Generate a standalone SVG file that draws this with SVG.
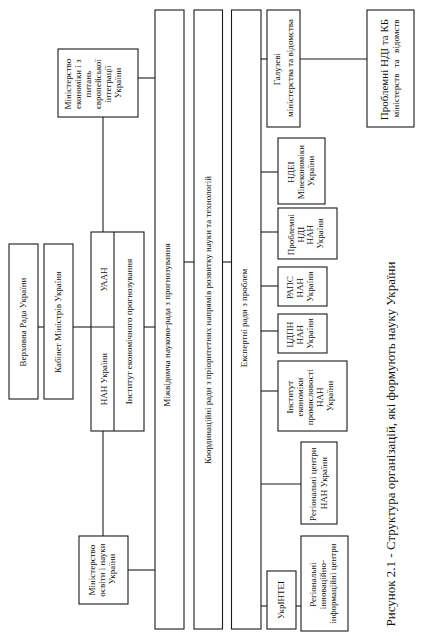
<svg xmlns="http://www.w3.org/2000/svg" width="428" height="636" viewBox="0 0 428 636">
<style>
.box{fill:#fff;stroke:#1a1a1a;stroke-width:1.1}
.ln{fill:none;stroke:#1a1a1a;stroke-width:1.1}
text{font-family:"Liberation Serif","Times New Roman",serif;font-size:9px;text-anchor:middle;fill:#111}
.big{font-size:11px}
.cap{font-size:13px}
</style>
<rect x="0" y="0" width="428" height="636" fill="#fff"/>
<g id="connectors" class="ln">
<path d="M138 78H155"/>
<path d="M103 117V232"/>
<path d="M38 327H44"/>
<path d="M73 327H91"/>
<path d="M144 327H155"/>
<path d="M103 431V536"/>
<path d="M128 570H155"/>
<path d="M184 262H194"/>
<path d="M222.5 262H231.5"/>
<path d="M261 59H267"/>
<path d="M300 59H367"/>
<path d="M261 172H278"/>
<path d="M261 232H278"/>
<path d="M261 286H278"/>
<path d="M261 331H278"/>
<path d="M261 391H278"/>
<path d="M261 484H301"/>
<path d="M261 606H267"/>
<path d="M296 606H301"/>
</g>
<g id="min-econ">
<rect class="box" x="58" y="49" width="80" height="68"/>
<g transform="translate(93.3,83) rotate(-90)"><text>
<tspan x="0" y="-22">Міністерство</tspan>
<tspan x="0" y="-12">економіки і з</tspan>
<tspan x="0" y="-2">питань</tspan>
<tspan x="0" y="8">європейської</tspan>
<tspan x="0" y="18">інтеграції</tspan>
<tspan x="0" y="28">України</tspan>
</text></g>
</g>
<g id="verkhovna-rada">
<rect class="box" x="9" y="244" width="29" height="155"/>
<g transform="translate(23,322) rotate(-90)"><text x="0" y="3">Верховна Рада України</text></g>
</g>
<g id="kabmin">
<rect class="box" x="44" y="244" width="29" height="155"/>
<g transform="translate(57.5,322) rotate(-90)"><text x="0" y="3">Кабінет Міністрів України</text></g>
</g>
<g id="nan-uaan">
<rect class="box" x="91" y="232" width="53" height="199"/>
<path class="ln" d="M114 232V431M91 327H114"/>
<g transform="translate(103.5,279.5) rotate(-90)"><text x="0" y="3">УААН</text></g>
<g transform="translate(103.5,379) rotate(-90)"><text x="0" y="3">НАН України</text></g>
<g transform="translate(128.5,331.5) rotate(-90)"><text x="0" y="3">Інститут економічного прогнозування</text></g>
</g>
<g id="mon">
<rect class="box" x="79" y="536" width="49" height="68"/>
<g transform="translate(102,569) rotate(-90)"><text>
<tspan x="0" y="-7">Міністерство</tspan>
<tspan x="0" y="3">освіти і науки</tspan>
<tspan x="0" y="13">України</tspan>
</text></g>
</g>
<g id="bar-mizhvidomcha">
<rect class="box" x="155" y="10" width="29" height="619"/>
<g transform="translate(167,325) rotate(-90)"><text x="0" y="3">Міжвідомча науково-рада з прогнозування</text></g>
</g>
<g id="bar-koordynatsiini">
<rect class="box" x="194" y="10" width="28.5" height="619"/>
<g transform="translate(207.5,320) rotate(-90)"><text x="0" y="3">Координаційні ради з пріоритетних напрямів розвитку науки та технологій</text></g>
</g>
<g id="bar-ekspertni">
<rect class="box" x="231.5" y="10" width="29.5" height="619"/>
<g transform="translate(244,318) rotate(-90)"><text x="0" y="3">Експертні ради з проблем</text></g>
</g>
<g id="haluzevi">
<rect class="box" x="267" y="10" width="33" height="117"/>
<g transform="translate(283.5,68) rotate(-90)"><text>
<tspan x="0" y="-3.5">Галузеві</tspan>
<tspan x="0" y="9.5">міністерства та відомства</tspan>
</text></g>
</g>
<g id="problemni-ndi-kb">
<rect class="box" x="367" y="10" width="47" height="117"/>
<g transform="translate(390,68.5) rotate(-90)"><text>
<tspan class="big" x="0" y="-2.3">Проблемні НДІ та КБ</tspan>
<tspan x="0" y="9" word-spacing="4">міністерств та відомств</tspan>
</text></g>
</g>
<g id="ndei">
<rect class="box" x="278" y="138" width="47" height="66"/>
<g transform="translate(301,171) rotate(-90)"><text>
<tspan x="0" y="-7">НДЕІ</tspan>
<tspan x="0" y="3">Мінекономіки</tspan>
<tspan x="0" y="13">України</tspan>
</text></g>
</g>
<g id="problemni-ndi-nan">
<rect class="box" x="278" y="208" width="59" height="51"/>
<g transform="translate(305.5,233.5) rotate(-90)"><text>
<tspan x="0" y="-11.5">Проблемні</tspan>
<tspan x="0" y="-1.8">НДІ</tspan>
<tspan x="0" y="7.9">НАН</tspan>
<tspan x="0" y="17.6">України</tspan>
</text></g>
</g>
<g id="raps">
<rect class="box" x="278" y="267" width="49" height="39"/>
<g transform="translate(300,286.5) rotate(-90)"><text>
<tspan x="0" y="-7">РАПС</tspan>
<tspan x="0" y="3">НАН</tspan>
<tspan x="0" y="13">України</tspan>
</text></g>
</g>
<g id="tsdpn">
<rect class="box" x="278" y="314" width="49" height="39"/>
<g transform="translate(300,333.5) rotate(-90)"><text>
<tspan x="0" y="-7">ЦДПН</tspan>
<tspan x="0" y="3">НАН</tspan>
<tspan x="0" y="13">України</tspan>
</text></g>
</g>
<g id="inst-ekon-prom">
<rect class="box" x="278" y="361" width="69" height="70"/>
<g transform="translate(310,396) rotate(-90)"><text>
<tspan x="0" y="-17">Інститут</tspan>
<tspan x="0" y="-7">економіки</tspan>
<tspan x="0" y="3">промисловості</tspan>
<tspan x="0" y="13">НАН</tspan>
<tspan x="0" y="23">України</tspan>
</text></g>
</g>
<g id="rehionalni-tsentry">
<rect class="box" x="301" y="442" width="36" height="82"/>
<g transform="translate(318.5,483) rotate(-90)"><text>
<tspan x="0" y="-2.5">Регіональні центри</tspan>
<tspan x="0" y="8.5">НАН України</tspan>
</text></g>
</g>
<g id="ukrintei">
<rect class="box" x="267" y="571" width="29" height="58"/>
<g transform="translate(280.5,600) rotate(-90)"><text x="0" y="3">УкрІНТЕІ</text></g>
</g>
<g id="rehionalni-innovatsiini">
<rect class="box" x="301" y="536" width="47" height="95"/>
<g transform="translate(323,583.5) rotate(-90)"><text>
<tspan x="0" y="-7">Регіональні</tspan>
<tspan x="0" y="3">інноваційно-</tspan>
<tspan x="0" y="13">інформаційні центри</tspan>
</text></g>
</g>
<g id="caption">
<g transform="translate(391,444) rotate(-90)"><text class="cap" x="0" y="4.3">Рисунок 2.1 - Структура організацій, які формують науку України</text></g>
</g>
</svg>
